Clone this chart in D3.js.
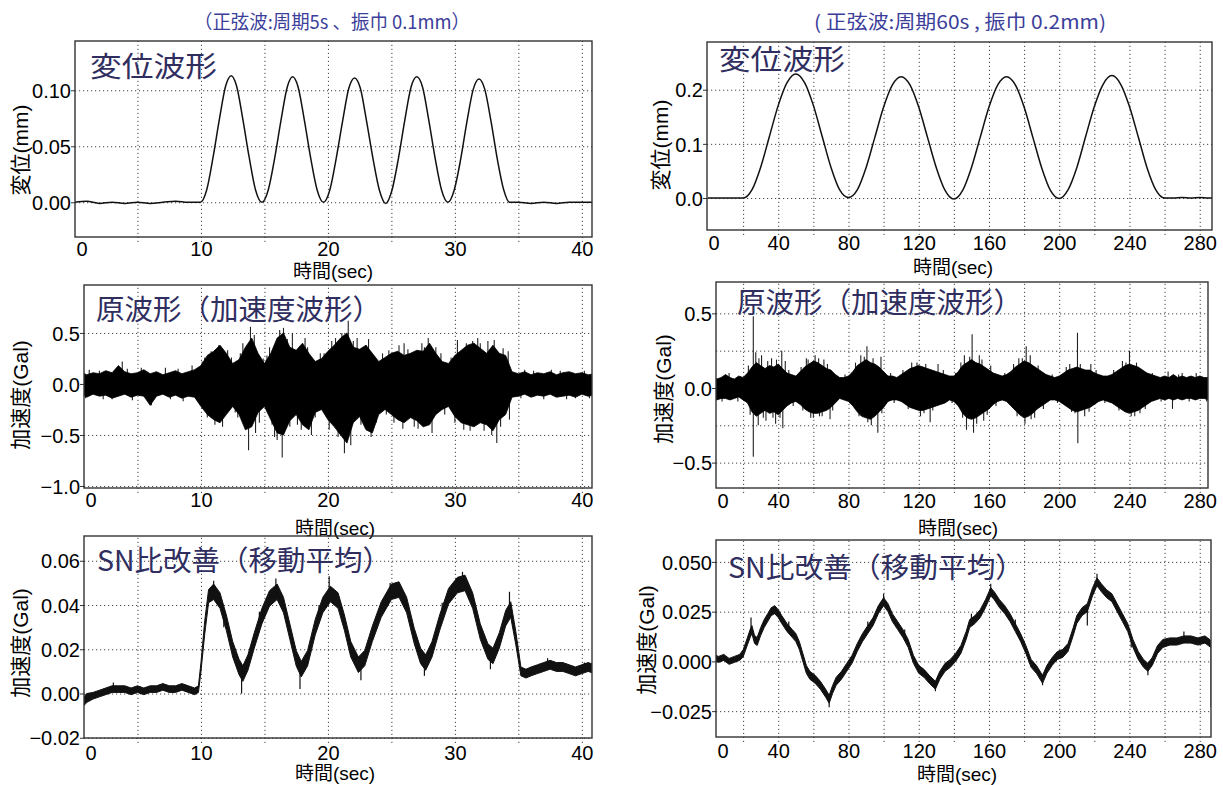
<!DOCTYPE html>
<html>
<head>
<meta charset="utf-8">
<script src="https://cdn.jsdelivr.net/npm/d3@7"></script>
<style>
  body { margin: 0; background: #fff; }
  svg text { font-family: "Liberation Sans", Arial, "Noto Sans CJK JP", sans-serif; }
  .jp { font-family: "Noto Sans CJK JP", sans-serif; }
</style>
</head>
<body>
<svg id="chart" width="1223" height="785"></svg>
<script>
// ---- data ----

// tick labels / grid positions
var leftXTicks = [0, 10, 20, 30, 40],
    leftXGrid = [5, 10, 15, 20, 25, 30, 35, 40],
    rightXTicks = [0, 40, 80, 120, 160, 200, 240, 280],
    rightXGrid = [20, 40, 60, 80, 100, 120, 140, 160, 180, 200, 220, 240, 260, 280];

// displacement, period 5 s  [t, mm]
var dispLeft = [
  [0,0.000],[1,0.001],[2,-0.001],[3,0.000],[4,-0.001],[5,0.000],[6,-0.001],[7,0.000],[8,0.001],[9,0.000],[9.95,0.000],
  [10.45,0.011],[10.95,0.040],[11.45,0.074],[11.95,0.104],[12.38,0.113],[12.8,0.104],[13.3,0.074],[13.8,0.040],[14.3,0.011],[14.8,0.000],
  [15.3,0.011],[15.8,0.039],[16.3,0.073],[16.8,0.103],[17.22,0.112],[17.65,0.103],[18.15,0.073],[18.65,0.039],[19.15,0.011],[19.65,0.000],
  [20.15,0.011],[20.65,0.039],[21.15,0.072],[21.65,0.102],[22.1,0.111],[22.55,0.102],[23.05,0.072],[23.55,0.039],[24.05,0.011],[24.55,-0.001],
  [25.05,0.011],[25.55,0.039],[26.05,0.073],[26.55,0.103],[27.0,0.112],[27.45,0.103],[27.95,0.073],[28.45,0.039],[28.95,0.011],[29.45,0.000],
  [29.95,0.011],[30.45,0.038],[30.95,0.072],[31.45,0.101],[31.9,0.110],[32.35,0.101],[32.85,0.072],[33.35,0.038],[33.85,0.011],[34.3,0.000],
  [35,0.000],[36,-0.001],[37,0.000],[38,-0.001],[39,0.000],[40,0.000],[41,0.000]
];

// displacement, period 60 s  [t, mm]
var dispRight = [
  [0,0.000],[5,0.000],[10,0.000],[15,0.000],[20,0.000],
  [25,0.015],[30,0.057],[35,0.114],[40,0.171],[45,0.213],[50,0.229],[55,0.213],[60,0.171],[65,0.114],[70,0.057],[75,0.015],[80,0.001],
  [85,0.015],[90,0.056],[95,0.112],[100,0.168],[105,0.209],[110,0.224],[115,0.209],[120,0.168],[125,0.112],[130,0.056],[135,0.014],[140,-0.002],
  [145,0.014],[150,0.056],[155,0.112],[160,0.168],[165,0.209],[170,0.224],[175,0.209],[180,0.168],[185,0.112],[190,0.056],[195,0.014],[200,-0.001],
  [205,0.015],[210,0.056],[215,0.113],[220,0.169],[225,0.210],[230,0.226],[235,0.210],[240,0.169],[245,0.113],[250,0.056],[255,0.015],[260,0.000],
  [265,0.000],[270,0.001],[275,0.000],[280,0.001],[285,0.000],[287,0.000]
];

// raw acceleration, period 5 s: envelope [t, upper, lower] (Gal)
var accLeftEnv = [
  [0,0.10,-0.11],[0.5,0.12,-0.09],[1,0.09,-0.13],[1.5,0.11,-0.10],[2,0.10,-0.12],[2.5,0.13,-0.11],[3,0.11,-0.14],[3.5,0.18,-0.12],
  [4,0.12,-0.10],[4.5,0.10,-0.13],[5,0.11,-0.11],[5.5,0.14,-0.12],[6,0.10,-0.21],[6.5,0.12,-0.12],[7,0.09,-0.10],[7.5,0.11,-0.13],
  [8,0.13,-0.11],[8.5,0.10,-0.14],[9,0.12,-0.12],[9.5,0.14,-0.13],
  [10,0.18,-0.22],[10.5,0.28,-0.30],[11,0.32,-0.35],[11.5,0.38,-0.38],[12,0.30,-0.30],[12.5,0.20,-0.22],[13,0.24,-0.30],[13.5,0.36,-0.45],
  [14,0.45,-0.42],[14.5,0.30,-0.28],[15,0.20,-0.22],[15.5,0.30,-0.35],[16,0.45,-0.48],[16.5,0.50,-0.50],[17,0.36,-0.36],[17.5,0.33,-0.30],
  [18,0.40,-0.40],[18.5,0.30,-0.45],[19,0.22,-0.28],[19.5,0.25,-0.25],[20,0.32,-0.35],[20.5,0.38,-0.42],[21,0.45,-0.50],[21.5,0.50,-0.58],
  [22,0.36,-0.38],[22.5,0.34,-0.32],[23,0.38,-0.45],[23.5,0.30,-0.48],[24,0.22,-0.30],[24.5,0.26,-0.25],[25,0.30,-0.30],[25.5,0.32,-0.35],
  [26,0.28,-0.38],[26.5,0.30,-0.33],[27,0.33,-0.36],[27.5,0.32,-0.42],[28,0.40,-0.40],[28.5,0.30,-0.30],[29,0.22,-0.25],[29.5,0.20,-0.22],
  [30,0.28,-0.32],[30.5,0.33,-0.38],[31,0.38,-0.40],[31.5,0.40,-0.42],[32,0.35,-0.38],[32.5,0.30,-0.40],[33,0.38,-0.46],[33.5,0.30,-0.35],
  [34,0.28,-0.30],[34.5,0.12,-0.13],
  [35,0.10,-0.12],[35.5,0.12,-0.10],[36,0.09,-0.13],[36.5,0.11,-0.11],[37,0.10,-0.12],[37.5,0.12,-0.10],[38,0.09,-0.13],[38.5,0.11,-0.12],
  [39,0.12,-0.11],[39.5,0.10,-0.13],[40,0.11,-0.10],[40.5,0.09,-0.12],[41,0.10,-0.11]
];
// spikes and hairs sticking out of the band [t, peak]
var accLeftSpikes = [
  [0.4,0.13],[0.9,-0.14],[1.2,0.14],[2.0,0.13],[2.3,-0.15],[3.0,-0.15],[3.8,0.22],[4.2,0.15],[4.6,-0.16],[5.3,0.16],
  [5.8,-0.15],[6.1,-0.21],[7.2,0.16],[7.6,-0.15],[8.2,0.15],[8.6,-0.17],[9.3,0.18],[9.7,-0.16],
  [10.1,0.22],[10.3,0.26],[10.5,-0.33],[10.8,0.32],[11.1,-0.40],[11.4,0.38],[11.7,-0.42],[12.1,0.33],[12.4,0.26],
  [12.7,-0.28],[12.9,-0.33],[13.1,0.30],[13.3,0.40],[13.75,-0.65],[13.9,0.56],[14.2,0.48],[14.3,-0.48],[14.6,-0.38],
  [14.9,0.25],[15.2,0.28],[15.4,0.36],[15.6,-0.40],[15.8,-0.52],[16.0,-0.55],[16.2,0.53],[16.4,-0.72],[16.5,0.55],
  [16.8,0.44],[17.0,-0.42],[17.2,0.50],[17.6,-0.40],[17.9,-0.45],[18.2,0.45],[18.4,0.36],[18.7,-0.50],[19.0,-0.33],
  [19.4,0.30],[19.7,0.30],[20.1,-0.45],[20.3,0.42],[20.6,0.45],[20.8,-0.52],[21.1,0.50],[21.3,-0.68],[21.6,0.62],
  [21.8,-0.60],[22.0,0.42],[22.3,0.45],[22.6,-0.40],[23.0,0.38],[23.2,0.44],[23.4,-0.52],[23.8,-0.38],[24.3,0.30],
  [24.6,-0.30],[24.8,0.33],[25.2,-0.38],[25.6,0.38],[25.9,-0.44],[26.0,0.40],[26.3,0.34],[26.8,-0.42],[27.1,-0.44],
  [27.4,0.40],[27.6,0.36],[27.9,0.45],[28.2,-0.48],[28.5,0.36],[28.9,0.30],[29.2,-0.30],[29.7,0.26],[30.0,-0.38],
  [30.2,0.43],[30.7,-0.45],[30.9,0.40],[31.2,-0.46],[31.4,0.42],[31.8,0.45],[32.0,0.40],[32.3,-0.46],[32.6,0.42],
  [32.9,-0.50],[33.1,0.43],[33.3,-0.58],[33.6,-0.42],[33.8,0.35],[34.2,0.32],[34.3,-0.35],
  [35.2,-0.14],[35.5,0.14],[36.2,0.13],[37,-0.15],[37.6,0.14],[38.3,0.13],[38.8,-0.15],[39.5,-0.14],[40.2,0.13],[40.6,-0.14]
];

// raw acceleration, period 60 s: envelope [t, upper, lower] (Gal)
var accRightEnv = [
  [0,0.07,-0.07],[2.5,0.08,-0.06],[5,0.06,-0.08],[7.5,0.07,-0.07],[10,0.09,-0.07],[12.5,0.07,-0.08],[15,0.06,-0.07],[17.5,0.08,-0.06],
  [20,0.07,-0.08],[22.5,0.10,-0.10],[25,0.14,-0.16],[27.5,0.17,-0.19],[30,0.15,-0.17],[32.5,0.13,-0.15],[35,0.15,-0.17],[37.5,0.14,-0.16],
  [40,0.16,-0.18],[42.5,0.13,-0.15],[45,0.10,-0.12],[47.5,0.09,-0.10],[50,0.08,-0.09],[52.5,0.11,-0.11],[55,0.14,-0.14],[57.5,0.16,-0.16],
  [60,0.18,-0.17],[62.5,0.17,-0.17],[65,0.15,-0.16],[67.5,0.13,-0.15],[70,0.12,-0.13],[72.5,0.09,-0.10],[75,0.07,-0.07],[77.5,0.07,-0.08],
  [80,0.08,-0.09],[82.5,0.11,-0.12],[85,0.15,-0.16],[87.5,0.17,-0.19],[90,0.19,-0.20],[92.5,0.17,-0.21],[95,0.16,-0.19],[97.5,0.14,-0.16],
  [100,0.11,-0.13],[102.5,0.08,-0.09],[105,0.08,-0.08],[107.5,0.07,-0.08],[110,0.09,-0.09],[112.5,0.11,-0.11],[115,0.13,-0.13],[117.5,0.14,-0.14],
  [120,0.15,-0.15],[122.5,0.14,-0.15],[125,0.13,-0.14],[127.5,0.12,-0.13],[130,0.11,-0.12],[132.5,0.10,-0.11],[135,0.09,-0.10],[137.5,0.08,-0.08],
  [140,0.08,-0.09],[142.5,0.11,-0.12],[145,0.15,-0.17],[147.5,0.17,-0.20],[150,0.19,-0.21],[152.5,0.17,-0.20],[155,0.16,-0.18],[157.5,0.14,-0.16],
  [160,0.12,-0.14],[162.5,0.10,-0.11],[165,0.09,-0.09],[167.5,0.08,-0.08],[170,0.09,-0.09],[172.5,0.11,-0.12],[175,0.14,-0.15],[177.5,0.16,-0.18],
  [180,0.18,-0.20],[182.5,0.17,-0.19],[185,0.15,-0.17],[187.5,0.13,-0.14],[190,0.11,-0.12],[192.5,0.09,-0.10],[195,0.08,-0.08],[197.5,0.07,-0.08],
  [200,0.08,-0.09],[202.5,0.10,-0.11],[205,0.12,-0.13],[207.5,0.13,-0.15],[210,0.14,-0.16],[212.5,0.13,-0.15],[215,0.12,-0.14],[217.5,0.12,-0.13],
  [220,0.10,-0.11],[222.5,0.09,-0.09],[225,0.08,-0.08],[227.5,0.08,-0.09],[230,0.09,-0.10],[232.5,0.11,-0.12],[235,0.13,-0.14],[237.5,0.15,-0.16],
  [240,0.16,-0.17],[242.5,0.15,-0.16],[245,0.14,-0.15],[247.5,0.12,-0.13],[250,0.10,-0.11],[252.5,0.09,-0.09],[255,0.08,-0.08],[257.5,0.07,-0.07],
  [260,0.08,-0.08],[262.5,0.07,-0.07],[265,0.09,-0.08],[267.5,0.07,-0.07],[270,0.08,-0.08],[272.5,0.07,-0.07],[275,0.08,-0.07],[277.5,0.07,-0.08],
  [280,0.08,-0.07],[282.5,0.07,-0.07],[285,0.07,-0.08],[287,0.07,-0.07]
];
var accRightSpikes = [
  [3,0.09],[8,-0.09],[12,0.10],[17,-0.09],[23,0.15],[24,-0.18],[25.8,0.48],[25.8,-0.46],[27.2,0.24],[28.6,-0.25],
  [29,0.20],[30.5,0.22],[31.5,-0.20],[33,-0.22],[34,0.18],[36.2,0.20],[37,-0.20],[38.5,-0.24],[39,0.19],[41,-0.20],
  [42,0.25],[42.6,-0.27],[44,0.18],[46,0.12],[48.5,-0.12],[53,0.14],[54,-0.15],[56,0.20],[57,0.19],[58.5,-0.20],
  [60,-0.20],[61,0.22],[63,0.20],[63.5,-0.19],[65,-0.19],[66,0.19],[68,0.16],[69.5,-0.21],[71,-0.15],[78,0.09],
  [81,-0.10],[84,0.17],[86,-0.19],[87,0.22],[89,0.21],[90.5,0.28],[91,-0.23],[93,-0.25],[94,0.20],[96.7,-0.30],
  [98.5,0.21],[99,-0.17],[104,0.10],[106,-0.10],[111,0.12],[114,-0.14],[116,0.17],[119,0.17],[121,-0.19],[123,-0.17],
  [124,0.16],[126.5,-0.23],[128,-0.15],[131,0.16],[134,0.12],[139,-0.10],[141,0.10],[144,0.17],[145,-0.20],[146,0.22],
  [147.2,-0.28],[149,0.21],[150.4,0.36],[151.2,-0.30],[153,-0.24],[154.5,0.22],[156,0.19],[157,-0.22],[159,-0.18],[161,0.15],
  [164,-0.12],[169,0.10],[174,0.16],[176,-0.19],[177,0.20],[179,0.20],[180.5,-0.24],[181.2,0.28],[183.5,0.22],[184,-0.21],
  [186,-0.20],[188,0.15],[191,-0.14],[196,0.09],[199,-0.10],[204,0.14],[206,0.16],[207,-0.16],[209,-0.17],[210.4,0.37],
  [210.6,-0.37],[212,0.16],[214.5,-0.19],[217,-0.16],[218,0.16],[221,0.12],[226,-0.10],[231,0.12],[234,-0.15],[236,0.18],
  [238,0.17],[240,0.25],[241,-0.19],[243,-0.19],[244,0.17],[246,-0.17],[249,-0.14],[253,0.10],[258,-0.09],[262,0.11],
  [264.5,-0.14],[268,0.09],[270,0.10],[274,-0.09],[278,0.10],[284,-0.09]
];

// moving average, period 5 s: [t, centre, half band] (Gal)
var smaLeft = [
  [0.7,-0.004,0.002],[1.0,-0.002,0.002],[1.5,-0.001,0.0015],[2.0,0.000,0.0015],[2.5,0.001,0.0015],[3.0,0.002,0.0015],[3.5,0.002,0.0015],
  [4.0,0.002,0.0015],[4.5,0.001,0.0015],[5.0,0.002,0.0015],[5.5,0.001,0.0015],[6.0,0.002,0.0015],[6.5,0.002,0.0015],[7.0,0.003,0.0015],
  [7.5,0.002,0.0015],[8.0,0.002,0.0015],[8.5,0.003,0.0015],[9.0,0.002,0.0015],[9.5,0.001,0.0015],[9.8,0.002,0.0015],
  [10.0,0.012,0.002],[10.3,0.030,0.003],[10.6,0.044,0.003],[11.0,0.046,0.0035],[11.5,0.042,0.0035],[12.0,0.032,0.0035],[12.5,0.020,0.0035],
  [13.0,0.012,0.0035],[13.3,0.009,0.0035],[13.7,0.014,0.0035],[14.2,0.024,0.0035],[14.8,0.035,0.0035],[15.4,0.043,0.0035],[16.0,0.046,0.0035],
  [16.5,0.040,0.0035],[17.0,0.028,0.0035],[17.5,0.016,0.0035],[17.9,0.011,0.0035],[18.4,0.016,0.0035],[19.0,0.030,0.0035],[19.6,0.040,0.0035],
  [20.2,0.045,0.0035],[20.8,0.042,0.0035],[21.3,0.032,0.0035],[21.8,0.020,0.0035],[22.4,0.013,0.0035],[22.9,0.016,0.0035],[23.5,0.027,0.0035],
  [24.2,0.038,0.0035],[25.0,0.046,0.0035],[25.6,0.047,0.0035],[26.2,0.040,0.0035],[26.8,0.026,0.0035],[27.3,0.017,0.0035],[27.7,0.014,0.0035],
  [28.2,0.020,0.0035],[28.8,0.032,0.0035],[29.5,0.044,0.0035],[30.2,0.049,0.0035],[30.8,0.050,0.0035],[31.4,0.042,0.0035],[32.0,0.028,0.0035],
  [32.6,0.019,0.0035],[33.0,0.017,0.0035],[33.5,0.024,0.0035],[34.0,0.034,0.0035],[34.4,0.038,0.0035],[34.8,0.025,0.003],[35.2,0.010,0.002],
  [35.6,0.009,0.002],[36.0,0.010,0.002],[36.5,0.011,0.002],[37.0,0.012,0.002],[37.5,0.013,0.002],[38.0,0.012,0.002],[38.5,0.012,0.002],
  [39.0,0.011,0.002],[39.5,0.010,0.002],[40.0,0.011,0.002],[40.5,0.012,0.002],[41.0,0.011,0.002]
];
// spikes [t, from, to]
var smaLeftSpikes = [
  [3.1,0.002,0.005],[11.0,0.046,0.051],[11.8,0.036,0.030],[13.2,0.013,0.000],[14.6,0.032,0.037],[15.9,0.045,0.052],
  [17.8,0.010,0.002],[19.3,0.035,0.040],[20.1,0.045,0.053],[22.6,0.012,0.006],[24.9,0.046,0.050],[27.6,0.013,0.008],
  [29.0,0.036,0.041],[30.6,0.050,0.055],[32.8,0.017,0.011],[34.3,0.038,0.046],[37.3,0.013,0.016],[40.2,0.011,0.014]
];

// moving average, period 60 s: [t, centre, half band] (Gal)
var smaRight = [
  [0,0.001,0.0015],[3,0.002,0.0015],[6,0.001,0.0015],[9,0.002,0.0015],[12,0.000,0.0015],[15,0.001,0.0015],[18,0.002,0.0015],
  [20,0.004,0.0018],[22,0.009,0.0018],[24,0.014,0.002],[25,0.016,0.002],[26.5,0.011,0.002],[28,0.010,0.002],[30,0.015,0.002],
  [32,0.019,0.002],[34,0.022,0.002],[36,0.025,0.002],[38,0.026,0.002],[40,0.024,0.002],[42,0.021,0.002],[45,0.017,0.002],
  [48,0.014,0.002],[50,0.012,0.002],[52,0.008,0.002],[54,0.002,0.002],[56,-0.004,0.002],[58,-0.007,0.002],[61,-0.009,0.002],
  [64,-0.012,0.002],[67,-0.016,0.002],[69,-0.019,0.002],[71,-0.014,0.002],[73,-0.010,0.002],[76,-0.007,0.002],[79,-0.003,0.002],
  [82,0.001,0.002],[85,0.007,0.002],[88,0.012,0.002],[91,0.016,0.002],[94,0.020,0.002],[97,0.026,0.002],[100,0.030,0.002],
  [102.5,0.027,0.002],[105,0.022,0.002],[108,0.018,0.002],[111,0.014,0.002],[114,0.009,0.002],[117,0.001,0.002],[120,-0.004,0.002],
  [123,-0.006,0.002],[126,-0.009,0.002],[129.5,-0.012,0.002],[132,-0.007,0.002],[135,-0.003,0.002],[138,-0.001,0.002],[141,0.002,0.002],
  [144,0.006,0.002],[147,0.013,0.002],[149,0.019,0.002],[152,0.021,0.002],[155,0.024,0.002],[158,0.029,0.002],[161,0.035,0.002],
  [163,0.033,0.002],[166,0.029,0.002],[169,0.026,0.002],[172,0.022,0.002],[175,0.017,0.002],[178,0.012,0.002],[181,0.006,0.002],
  [184,-0.001,0.002],[187,-0.004,0.002],[190.5,-0.009,0.002],[193,-0.004,0.002],[196,0.000,0.002],[199,0.003,0.002],[202,0.004,0.002],
  [205,0.007,0.002],[208,0.015,0.002],[210,0.021,0.002],[213,0.025,0.002],[216,0.027,0.002],[219,0.035,0.002],[221.5,0.040,0.002],
  [224,0.037,0.002],[227,0.034,0.002],[230,0.032,0.002],[233,0.027,0.002],[236,0.022,0.002],[239,0.017,0.002],[242,0.009,0.002],
  [245,0.003,0.002],[248,-0.001,0.002],[250.5,-0.003,0.002],[253,0.000,0.002],[256,0.006,0.002],[259,0.009,0.002],[263,0.010,0.0018],
  [267,0.010,0.0018],[271,0.011,0.0018],[275,0.011,0.0018],[279,0.010,0.0018],[283,0.011,0.0018],[286,0.009,0.0018]
];
var smaRightSpikes = [
  [24.5,0.014,0.022],[46,0.016,0.020],[69,-0.019,-0.023],[91,0.016,0.020],[100,0.030,0.034],[112,0.012,0.016],
  [129.5,-0.012,-0.015],[150,0.020,0.024],[161,0.035,0.039],[175,0.017,0.021],[190.5,-0.009,-0.012],[216,0.026,0.018],
  [221.5,0.040,0.044],[241,0.012,0.007],[250.5,-0.003,-0.007],[271,0.011,0.015],[286.5,0.009,-0.023]
];

// ---- layout ----
var svg = d3.select('#chart');

var panels = [
  { id: 'dl', f: {l: 75, r: 592, t: 41, b: 237}, xd: [0, 40.8], xr: [74, 592], yd: [-0.031, 0.144],
    yTicks: [0, 0.05, 0.10], yGrid: [0, 0.05, 0.10], fmt: '.2f', xTicks: leftXTicks, xGrid: leftXGrid, labY: 256,
    title: '変位波形', tx: 90, ty: 77, tw: 127, xtX: 333, xtY: 278, ytX: 21, ytY: 150, ytext: '変位(mm)',
    kind: 'line', data: dispLeft },
  { id: 'dr', f: {l: 707, r: 1212, t: 42, b: 230}, xd: [0, 287], xr: [708, 1212], yd: [-0.059, 0.288],
    yTicks: [0, 0.1, 0.2], yGrid: [0, 0.1, 0.2], fmt: '.1f', xTicks: rightXTicks, xGrid: rightXGrid, labY: 250,
    title: '変位波形', tx: 719, ty: 70, tw: 126, xtX: 953, xtY: 274, ytX: 661, ytY: 145, ytext: '変位(mm)',
    kind: 'line', data: dispRight },
  { id: 'al', f: {l: 84, r: 592, t: 285, b: 488}, xd: [0, 40.8], xr: [74, 592], yd: [-1.02, 0.97],
    yTicks: [-1, -0.5, 0, 0.5], yGrid: [-1, -0.5, 0, 0.5], fmt: '.1f', xTicks: leftXTicks, xGrid: leftXGrid, labY: 507,
    title: '原波形（加速度波形）', tx: 96, ty: 320, tw: 285, xtX: 335, xtY: 535, ytX: 21, ytY: 395, ytext: '加速度(Gal)',
    kind: 'env', data: accLeftEnv, spikes: accLeftSpikes },
  { id: 'ar', f: {l: 716, r: 1208, t: 282, b: 488}, xd: [0, 287], xr: [708, 1212], yd: [-0.67, 0.71],
    yTicks: [-0.5, 0, 0.5], yGrid: [-0.5, -0.25, 0, 0.25, 0.5], fmt: '.1f', xTicks: rightXTicks, xGrid: rightXGrid, labY: 508,
    title: '原波形（加速度波形）', tx: 737, ty: 313, tw: 285, xtX: 958, xtY: 535, ytX: 664, ytY: 389, ytext: '加速度(Gal)',
    kind: 'env', data: accRightEnv, spikes: accRightSpikes },
  { id: 'sl', f: {l: 84, r: 592, t: 536, b: 738}, xd: [0, 40.8], xr: [74, 592], yd: [-0.0201, 0.0712],
    yTicks: [-0.02, 0, 0.02, 0.04, 0.06], yGrid: [-0.02, 0, 0.02, 0.04, 0.06], fmt: '.2f', xTicks: leftXTicks, xGrid: leftXGrid, labY: 760,
    title: 'SN比改善（移動平均）', tx: 97, ty: 571, tw: 294, xtX: 335, xtY: 780, ytX: 21, ytY: 643, ytext: '加速度(Gal)',
    kind: 'band', data: smaLeft, spikes: smaLeftSpikes },
  { id: 'sr', f: {l: 716, r: 1211, t: 540, b: 737}, xd: [0, 287], xr: [708, 1212], yd: [-0.038, 0.061],
    yTicks: [-0.025, 0, 0.025, 0.05], yGrid: [-0.025, 0, 0.025, 0.05], fmt: '.3f', xTicks: rightXTicks, xGrid: rightXGrid, labY: 758,
    title: 'SN比改善（移動平均）', tx: 728, ty: 578, tw: 296, xtX: 957, xtY: 781, ytX: 647, ytY: 640, ytext: '加速度(Gal)',
    kind: 'band', data: smaRight, spikes: smaRightSpikes }
];

panels.forEach(function(p) {
  var f = p.f, w = f.r - f.l, h = f.b - f.t;
  var x = d3.scaleLinear().domain(p.xd).range(p.xr);
  var y = d3.scaleLinear().domain(p.yd).range([f.b, f.t]);
  var g = svg.append('g').attr('class', 'panel-' + p.id);

  g.append('clipPath').attr('id', 'clip-' + p.id)
    .append('rect').attr('x', f.l).attr('y', f.t).attr('width', w).attr('height', h);

  // dotted grid
  g.append('g')
    .attr('transform', 'translate(0,' + f.b + ')')
    .call(d3.axisBottom(x).tickValues(p.xGrid).tickSize(-h).tickFormat(''))
    .call(function(a) {
      a.select('.domain').remove();
      a.selectAll('line').attr('y1', 5).attr('stroke', '#444').attr('stroke-dasharray', '1.2,2.8');
    });
  g.append('g')
    .attr('transform', 'translate(' + f.l + ',0)')
    .call(d3.axisLeft(y).tickValues(p.yGrid).tickSize(-w).tickFormat(''))
    .call(function(a) {
      a.select('.domain').remove();
      a.selectAll('line').attr('stroke', '#444').attr('stroke-dasharray', '1.2,2.8');
    });

  // signal
  var plot = g.append('g').attr('clip-path', 'url(#clip-' + p.id + ')');
  if (p.kind === 'line') {
    plot.append('path').datum(p.data)
      .attr('fill', 'none').attr('stroke', '#111').attr('stroke-width', 1.5)
      .attr('d', d3.line().x(function(d) { return x(d[0]); }).y(function(d) { return y(d[1]); }).curve(d3.curveMonotoneX));
  } else if (p.kind === 'env') {
    // hairs first so the band itself stays solid black
    plot.selectAll('.spike').data(p.spikes).enter().append('line')
      .attr('x1', function(d) { return x(d[0]); }).attr('x2', function(d) { return x(d[0]); })
      .attr('y1', y(0)).attr('y2', function(d) { return y(d[1]); })
      .attr('stroke', '#222').attr('stroke-width', 1.1);
    plot.append('path').datum(p.data)
      .attr('fill', '#000').attr('stroke', '#000').attr('stroke-width', 0.8)
      .attr('d', d3.area().x(function(d) { return x(d[0]); })
        .y0(function(d) { return y(d[2]); }).y1(function(d) { return y(d[1]); }));
  } else {
    plot.append('path').datum(p.data)
      .attr('fill', '#111').attr('stroke', '#111').attr('stroke-width', 1)
      .attr('d', d3.area().x(function(d) { return x(d[0]); })
        .y0(function(d) { return y(d[1] - d[2]); }).y1(function(d) { return y(d[1] + d[2]); }));
    plot.selectAll('.spike').data(p.spikes).enter().append('line')
      .attr('x1', function(d) { return x(d[0]); }).attr('x2', function(d) { return x(d[0]); })
      .attr('y1', function(d) { return y(d[1]); }).attr('y2', function(d) { return y(d[2]); })
      .attr('stroke', '#111').attr('stroke-width', 1.2);
  }

  // frame
  g.append('rect').attr('x', f.l).attr('y', f.t).attr('width', w).attr('height', h)
    .attr('fill', 'none').attr('stroke', '#333').attr('stroke-width', 1.4);

  // tick labels
  g.append('g')
    .attr('transform', 'translate(0,' + f.b + ')')
    .call(d3.axisBottom(x).tickValues(p.xTicks).tickSize(0).tickPadding(p.labY - f.b - 14.5).tickFormat(d3.format('d')))
    .call(function(a) {
      a.select('.domain').remove();
      a.attr('font-family', null).attr('font-size', null);
      a.selectAll('text').attr('font-size', 20).attr('fill', '#000');
      a.selectAll('.tick').filter(function(d) { return d === 0; }).select('text')
        .attr('text-anchor', 'start').attr('x', f.l - x(0) + 1);
    });
  g.append('g')
    .attr('transform', 'translate(' + f.l + ',0)')
    .call(d3.axisLeft(y).tickValues(p.yTicks).tickSize(4).tickPadding(0).tickFormat(d3.format(p.fmt)))
    .call(function(a) {
      a.select('.domain').remove();
      a.attr('font-family', null).attr('font-size', null);
      a.selectAll('line').attr('stroke', '#333');
      a.selectAll('text').attr('font-size', 20).attr('fill', '#000').attr('dy', '0.36em');
    });

  // axis titles
  g.append('text').attr('x', p.xtX).attr('y', p.xtY).attr('text-anchor', 'middle')
    .attr('font-size', 19).attr('fill', '#000').text('時間(sec)');
  g.append('text').attr('transform', 'translate(' + p.ytX + ',' + p.ytY + ') rotate(-90)')
    .attr('text-anchor', 'middle').attr('dy', '0.35em')
    .attr('font-size', 21).attr('fill', '#000').text(p.ytext);

  // panel title
  g.append('text').attr('class', 'jp').attr('x', p.tx).attr('y', p.ty)
    .attr('font-size', 28).attr('fill', '#2f2e5f')
    .attr('textLength', p.tw).attr('lengthAdjust', 'spacingAndGlyphs')
    .text(p.title);
});

// test condition headers
svg.append('text').attr('class', 'jp').attr('x', 194).attr('y', 29)
  .attr('font-size', 19).attr('fill', '#3b3e9a')
  .attr('textLength', 276).attr('lengthAdjust', 'spacingAndGlyphs')
  .text('（正弦波:周期5s 、振巾 0.1mm）');
svg.append('text').attr('class', 'jp').attr('x', 814).attr('y', 29)
  .attr('font-size', 19).attr('fill', '#3b3e9a')
  .attr('textLength', 292).attr('lengthAdjust', 'spacingAndGlyphs')
  .text('( 正弦波:周期60s , 振巾 0.2mm)');
</script>
</body>
</html>
